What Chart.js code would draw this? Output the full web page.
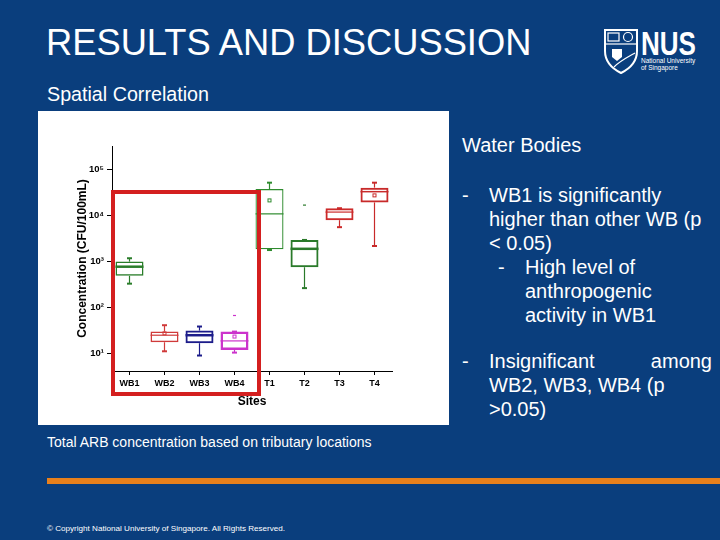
<!DOCTYPE html>
<html>
<head>
<meta charset="utf-8">
<script src="https://cdn.jsdelivr.net/npm/chart.js@4.4.1/dist/chart.umd.min.js"></script>
<style>
  html, body { margin: 0; padding: 0; }
  body {
    width: 720px; height: 540px; overflow: hidden; position: relative;
    background: #0a3e7d; color: #fff;
    font-family: "Liberation Sans", Arial, sans-serif;
  }
  .abs { position: absolute; white-space: nowrap; }
  #title { left: 46px; top: 25px; font-size: 36.3px; line-height: 36px; }
  #sub { left: 47px; top: 84px; font-size: 19.7px; line-height: 20px; }
  #chartBox { left: 38px; top: 111px; width: 411px; height: 314px; background: #fff; }
  #redBox { left: 111px; top: 190px; width: 150px; height: 206px; box-sizing: border-box;
    border: 4.5px solid #d41f1f; }
  .txt { font-size: 20px; line-height: 24px; }
  #caption { left: 47px; top: 435px; font-size: 14px; line-height: 14px; }
  #orange { left: 47px; top: 478px; width: 673px; height: 6px; background: #e8801c; }
  #copy { left: 47px; top: 525px; font-size: 8.1px; line-height: 8px; }
</style>
</head>
<body>
<div id="title" class="abs">RESULTS AND DISCUSSION</div>
<div id="sub" class="abs">Spatial Correlation</div>

<svg class="abs" style="left:602px;top:27px" width="110" height="48" viewBox="0 0 110 48">
  <path d="M3 3 H35 V24 C35 36 27 42 19 46 C11 42 3 36 3 24 Z" fill="none" stroke="#fff" stroke-width="2"/>
  <rect x="6" y="6" width="11" height="8" fill="none" stroke="#fff" stroke-width="1.2"/>
  <circle cx="26" cy="10" r="4.5" fill="none" stroke="#fff" stroke-width="1.2"/>
  <line x1="3" y1="17" x2="35" y2="17" stroke="#fff" stroke-width="1.2"/>
  <path d="M10 22 h10 v8 l-5 4 l-5 -4 z" fill="#fff"/>
  <path d="M12 40 C18 34 26 30 33 26" fill="none" stroke="#fff" stroke-width="1.2"/>
  <text x="39" y="28" font-family="Liberation Sans, Arial" font-weight="bold" font-size="33" fill="#fff" textLength="55" lengthAdjust="spacingAndGlyphs">NUS</text>
  <text x="39" y="36" font-family="Liberation Sans, Arial" font-size="6.5" fill="#fff">National University</text>
  <text x="39" y="43" font-family="Liberation Sans, Arial" font-size="6.5" fill="#fff">of Singapore</text>
</svg>

<div id="chartBox" class="abs"><canvas id="boxChart" width="411" height="314"></canvas></div>
<div id="redBox" class="abs"></div>

<div class="abs txt" style="left:462px;top:133px">Water Bodies</div>
<div class="abs txt" style="left:462px;top:183px">-</div>
<div class="abs txt" style="left:489px;top:183px">WB1 is significantly<br>higher than other WB (p<br>&lt; 0.05)</div>
<div class="abs txt" style="left:498px;top:255px">-</div>
<div class="abs txt" style="left:525px;top:255px">High level of<br>anthropogenic<br>activity in WB1</div>
<div class="abs txt" style="left:462px;top:349px">-</div>
<div class="abs txt" style="left:489px;top:349px">
  <div style="display:flex;justify-content:space-between;width:223px"><span>Insignificant</span><span>among</span></div>
  WB2, WB3, WB4 (p<br>&gt;0.05)
</div>

<div id="caption" class="abs">Total ARB concentration based on tributary locations</div>
<div id="orange" class="abs"></div>
<div id="copy" class="abs">© Copyright National University of Singapore. All Rights Reserved.</div>

<script>
// sampling sites
const sites = ['WB1', 'WB2', 'WB3', 'WB4', 'T1', 'T2', 'T3', 'T4'];

// box plot statistics, CFU/100mL
const whiskerLow  = [325, 11,   8.9,  10.3, 1750,  260,  5500,  2140];
const q1          = [480, 17.3, 16.5, 11.8, 1820,  740,  7800,  19000];
const median      = [760, 24.6, 24.6, 18.5, 10700, 1860, 11700, 32500];
const q3          = [980, 29.5, 31,   29.5, 37000, 2900, 14200, 39800];
const whiskerHigh = [1160, 40.6, 38,  29.5, 51000, 2900, 14200, 51000];
const means       = [null, 27,  null, 23,   21000, null, null,  27000];
const outliers    = [null, null, null, 66,  null,  16600, null, null];

// y tick values (decades)
const yTicks = [10, 100, 1000, 10000, 100000];

const siteColors = ['#2a7d2a', '#d03a3a', '#1c1c8a', '#cc33cc', '#2e8b2e', '#2a7a2a', '#cc2a2a', '#c82a2a'];
const boxWidths = [1.5, 1.5, 2, 2.5, 1.2, 2, 2, 2];
const medianWidths = [2.5, 1.2, 2.5, 1.2, 1.2, 2.5, 1.2, 1.5];

const sup = {'0':'⁰','1':'¹','2':'²','3':'³','4':'⁴','5':'⁵','6':'⁶'};

function seg(ctx, x1, y1, x2, y2) {
  ctx.beginPath();
  ctx.moveTo(x1, y1);
  ctx.lineTo(x2, y2);
  ctx.stroke();
}

// whiskers, caps, medians, means and outliers on top of the floating bars
const boxParts = {
  id: 'boxParts',
  afterDatasetsDraw(chart) {
    const {ctx, scales: {x, y}} = chart;
    const bars = chart.getDatasetMeta(0).data;
    ctx.save();
    ctx.lineCap = 'butt';
    sites.forEach((s, i) => {
      const cx = x.getPixelForValue(i);
      const half = bars[i].width / 2;
      ctx.strokeStyle = siteColors[i];

      ctx.lineWidth = 1.2;
      seg(ctx, cx, y.getPixelForValue(q3[i]), cx, y.getPixelForValue(whiskerHigh[i]));
      seg(ctx, cx, y.getPixelForValue(q1[i]), cx, y.getPixelForValue(whiskerLow[i]));

      ctx.lineWidth = 2;
      const yh = y.getPixelForValue(whiskerHigh[i]);
      const yl = y.getPixelForValue(whiskerLow[i]);
      seg(ctx, cx - 2.5, yh, cx + 2.5, yh);
      seg(ctx, cx - 2.5, yl, cx + 2.5, yl);

      ctx.lineWidth = medianWidths[i];
      const ym = y.getPixelForValue(median[i]);
      seg(ctx, cx - half, ym, cx + half, ym);

      ctx.lineWidth = 1;
      if (means[i] !== null) {
        const ya = y.getPixelForValue(means[i]);
        ctx.strokeRect(cx - 1.5, ya - 1.5, 3, 3);
      }
      if (outliers[i] !== null) {
        const yo = y.getPixelForValue(outliers[i]);
        ctx.lineWidth = 1.2;
        seg(ctx, cx - 1.5, yo, cx + 1.5, yo);
      }
    });
    ctx.restore();
  }
};

new Chart(document.getElementById('boxChart'), {
  type: 'bar',
  data: {
    labels: sites,
    datasets: [{
      data: sites.map((s, i) => [q1[i], q3[i]]),
      backgroundColor: 'rgba(255,255,255,0)',
      borderColor: siteColors,
      borderWidth: boxWidths,
      borderSkipped: false,
      categoryPercentage: 1,
      barPercentage: 0.8
    }]
  },
  options: {
    responsive: false,
    devicePixelRatio: 1,
    animation: false,
    layout: { padding: { left: 33, top: 35, right: 57, bottom: 12 } },
    plugins: { legend: { display: false }, tooltip: { enabled: false } },
    scales: {
      x: {
        afterFit: (scale) => { scale.height = 42; },
        grid: { offset: false, drawOnChartArea: false, tickLength: 4, color: '#000' },
        border: { color: '#000', width: 1 },
        ticks: { color: '#000', padding: 3, font: { family: 'Liberation Sans, Arial', size: 9, weight: 'bold' } },
        title: { display: true, text: 'Sites', color: '#000', padding: { top: 4, bottom: 4 },
                 font: { family: 'Liberation Sans, Arial', size: 12, weight: 'bold' } }
      },
      y: {
        type: 'logarithmic',
        min: 4.1,
        max: 320000,
        afterFit: (scale) => { scale.width = 41; },
        afterBuildTicks: (scale) => { scale.ticks = yTicks.map(v => ({ value: v })); },
        grid: { drawOnChartArea: false, tickLength: 5, color: '#000' },
        border: { color: '#000', width: 1 },
        ticks: {
          color: '#000', padding: 3,
          font: { family: 'Liberation Sans, Arial', size: 9.5, weight: 'bold' },
          callback: (v) => '10' + sup[String(Math.round(Math.log10(v)))]
        },
        title: { display: true, text: 'Concentration (CFU/100mL)', color: '#000', padding: { top: 4, bottom: 4 },
                 font: { family: 'Liberation Sans, Arial', size: 12, weight: 'bold' } }
      }
    }
  },
  plugins: [boxParts]
});
</script>
</body>
</html>
